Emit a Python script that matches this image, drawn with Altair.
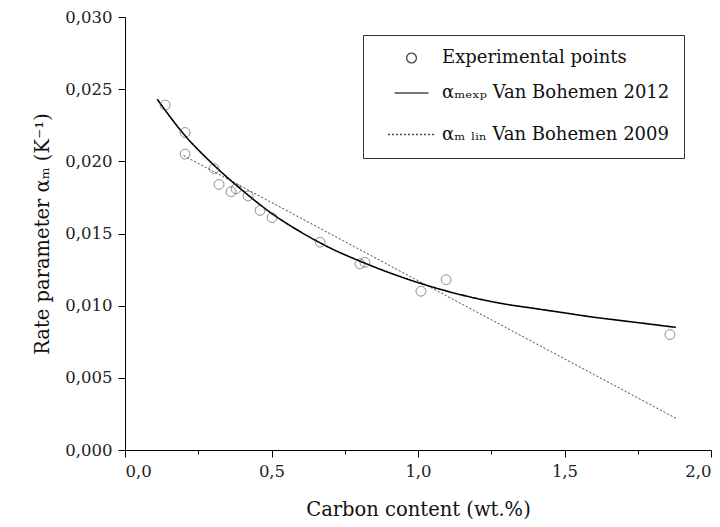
import altair as alt
import pandas as pd

# Experimental points (carbon wt.%, alpha_m in 1/K)
exp_c = [0.137, 0.205, 0.205, 0.304, 0.321, 0.362, 0.379, 0.420, 0.461, 0.502,
         0.666, 0.802, 0.819, 1.010, 1.096, 1.860]
exp_a = [0.0239, 0.0220, 0.0205, 0.0195, 0.0184, 0.0179, 0.0181, 0.0176, 0.0166, 0.0161,
         0.0144, 0.0129, 0.0130, 0.0110, 0.0118, 0.0080]

# Van Bohemen 2012 curve
exp_curve_c = [0.11, 0.20, 0.30, 0.40, 0.50, 0.60, 0.70, 0.80, 0.90, 1.00,
               1.10, 1.20, 1.30, 1.40, 1.50, 1.60, 1.70, 1.80, 1.88]
exp_curve_a = [0.0243, 0.0219, 0.0198, 0.0180, 0.0164, 0.0151, 0.0140, 0.0131, 0.0123, 0.0116,
               0.0110, 0.0105, 0.0101, 0.0098, 0.0095, 0.0092, 0.00895, 0.0087, 0.0085]

# Van Bohemen 2009 linear line
lin_c = [0.20, 1.88]
lin_a = [0.0204, 0.0022]

series_names = ["Experimental points",
                "\u03b1\u2098\u2091\u2093\u209a Van Bohemen 2012",
                "\u03b1\u2098 \u2097\u1d62\u2099 Van Bohemen 2009"]

pts = pd.DataFrame({"c": exp_c, "a": exp_a, "series": series_names[0]})
curve = pd.DataFrame({"c": exp_curve_c, "a": exp_curve_a, "series": series_names[1]})
lin = pd.DataFrame({"c": lin_c, "a": lin_a, "series": series_names[2]})

FONT = "DejaVu Serif"

x_vals = [i * 0.25 for i in range(9)]
y_vals = [round(i * 0.0025, 4) for i in range(13)]

x_major = "abs(datum.value*2 - round(datum.value*2)) < 1e-6"
y_major = "abs(datum.value*200 - round(datum.value*200)) < 1e-6"

x_enc = alt.X("c:Q", scale=alt.Scale(domain=[0, 2.0], nice=False, zero=False),
              axis=alt.Axis(values=x_vals, grid=False,
                            labelExpr=x_major + " ? replace(format(datum.value, '.1f'), '.', ',') : ''",
                            tickSize={"condition": {"test": x_major, "value": 7}, "value": 4},
                            title="Carbon content (wt.%)", titlePadding=21))
y_enc = alt.Y("a:Q", scale=alt.Scale(domain=[0, 0.030], nice=False),
              axis=alt.Axis(values=y_vals, grid=False,
                            labelExpr=y_major + " ? replace(format(datum.value, '.3f'), '.', ',') : ''",
                            tickSize={"condition": {"test": y_major, "value": 7}, "value": 4},
                            title="Rate parameter \u03b1\u2098 (K\u207b\u00b9)", titlePadding=12))

legend = alt.Legend(title=None, orient="none", legendX=238, legendY=18,
                    strokeColor="#333", padding=14, symbolOffset=10,
                    labelFont=FONT, labelFontSize=18, labelColor="#111", labelLimit=500,
                    rowPadding=8, symbolStrokeColor="black", symbolStrokeWidth=1.4,
                    symbolFillColor="transparent", labelOffset=6, fillColor="white")

shape_scale = alt.Scale(domain=series_names, range=["circle", "stroke", "stroke"])
dash_scale = alt.Scale(domain=series_names, range=[[1, 0], [1, 0], [2, 2]])
size_scale = alt.Scale(domain=series_names, range=[95, 2200, 2200])

points = alt.Chart(pts).mark_point(filled=False, color="#444", strokeWidth=1).encode(
    x=x_enc, y=y_enc,
    shape=alt.Shape("series:N", scale=shape_scale, legend=legend),
    strokeDash=alt.StrokeDash("series:N", scale=dash_scale, legend=legend),
    size=alt.Size("series:N", scale=size_scale, legend=legend),
)

curve_line = alt.Chart(curve).mark_line(color="black", strokeWidth=1.6, interpolate="monotone").encode(
    x="c:Q", y="a:Q",
    strokeDash=alt.StrokeDash("series:N", scale=dash_scale, legend=legend),
)

lin_line = alt.Chart(lin).mark_line(color="#444", strokeWidth=1).encode(
    x="c:Q", y="a:Q",
    strokeDash=alt.StrokeDash("series:N", scale=dash_scale, legend=legend),
)

chart = alt.layer(lin_line, curve_line, points).properties(
    width=586, height=433,
    autosize=alt.AutoSizeParams(type="none"),
    padding={"left": 125, "top": 17, "right": 9, "bottom": 77},
    background="white",
).configure_view(stroke=None).configure_axis(
    labelFont=FONT, labelFontSize=16.5, labelColor="#222",
    titleFont=FONT, titleFontSize=19.5, titleFontWeight="normal", titleColor="#111",
    domainColor="black", tickColor="black", domainWidth=1, tickWidth=1,
    labelPadding=6,
)

chart.save("out.html", embed_options={"renderer": "svg", "actions": False})
